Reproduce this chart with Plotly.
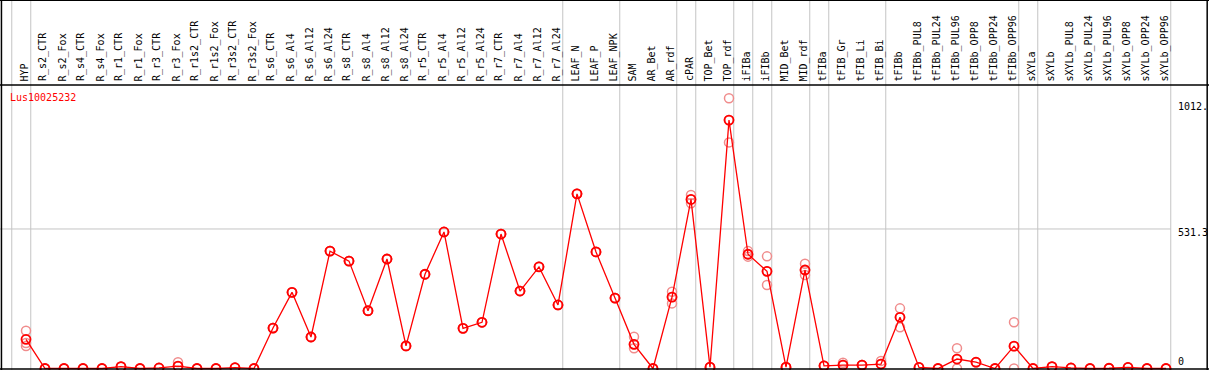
import plotly.graph_objects as go

categories = ["HYP", "R_s2_CTR", "R_s2_Fox", "R_s4_CTR", "R_s4_Fox", "R_r1_CTR", "R_r1_Fox",
              "R_r3_CTR", "R_r3_Fox", "R_r1s2_CTR", "R_r1s2_Fox", "R_r3s2_CTR", "R_r3s2_Fox",
              "R_s6_CTR", "R_s6_Al4", "R_s6_Al12", "R_s6_Al24", "R_s8_CTR", "R_s8_Al4",
              "R_s8_Al12", "R_s8_Al24", "R_r5_CTR", "R_r5_Al4", "R_r5_Al12", "R_r5_Al24",
              "R_r7_CTR", "R_r7_Al4", "R_r7_Al12", "R_r7_Al24", "LEAF_N", "LEAF_P", "LEAF_NPK",
              "SAM", "AR_Bet", "AR_rdf", "cPAR", "TOP_Bet", "TOP_rdf", "iFIBa", "iFIBb",
              "MID_Bet", "MID_rdf", "tFIBa", "tFIB_Gr", "tFIB_Li", "tFIB_Bi", "tFIBb",
              "tFIBb_PUL8", "tFIBb_PUL24", "tFIBb_PUL96", "tFIBb_OPP8", "tFIBb_OPP24",
              "tFIBb_OPP96", "sXYLa", "sXYLb", "sXYLb_PUL8", "sXYLb_PUL24", "sXYLb_PUL96",
              "sXYLb_OPP8", "sXYLb_OPP24", "sXYLb_OPP96"]

mean_values = [111, 0, 0, 0, 0, 7, 0, 2, 9, 0, 0, 3, 0,
               154, 290, 120, 447, 409, 220, 417, 86, 359, 520, 153, 176,
               512, 295, 387, 242, 665, 444, 268,
               92, 0, 272, 644, 5, 946, 435, 370, 5, 375,
               10, 13, 13, 17, 195, 4, 0, 36, 24, 0, 85,
               0, 7, 2, 0, 1, 4, 0, 0]

rep_a = [144, 0, 0, 0, 0, 7, 0, 2, 24, 0, 0, 3, 0,
         154, 290, 120, 447, 409, 220, 417, 86, 359, 520, 153, 176,
         512, 295, 387, 242, 665, 444, 268,
         121, 0, 292, 661, 5, 1029, 447, 427, 5, 399,
         10, 22, 13, 29, 229, 4, 0, 77, 24, 0, 176,
         0, 7, 2, 0, 1, 4, 0, 0]

rep_b = [86, 0, 0, 0, 0, 7, 0, 2, 9, 0, 0, 3, 0,
         154, 290, 120, 447, 409, 220, 417, 86, 359, 520, 153, 176,
         512, 295, 387, 242, 665, 444, 268,
         77, 0, 248, 629, 5, 861, 426, 318, 5, 356,
         10, 13, 13, 17, 157, 4, 0, 0, 24, 0, 0,
         0, 7, 2, 0, 1, 4, 0, 0]

rep_c = [97, 0, 0, 0, 0, 7, 0, 2, 9, 0, 0, 3, 0,
         154, 290, 120, 447, 409, 220, 417, 86, 359, 520, 153, 176,
         512, 295, 387, 242, 665, 444, 268,
         92, 0, 272, 644, 5, 946, 435, 370, 5, 375,
         10, 13, 13, 17, 195, 4, 0, 36, 24, 0, 85,
         0, 7, 2, 0, 1, 4, 0, 0]

separator_after = ["HYP", "R_r7_Al24", "LEAF_NPK", "AR_rdf", "cPAR", "TOP_rdf", "iFIBa",
                   "iFIBb", "MID_rdf", "tFIBa", "tFIB_Bi", "tFIBb_OPP96", "sXYLa", "sXYLb_OPP96"]

gene_id = "Lus10025232"
y_tick_values = [1012, 531.3, 0]
y_tick_labels = ["1012.", "531.3", "0"]
grid_value = 531.3

W, H = 1209, 370
X0_PX, DX_PX = 26, 19          # pixel of first category, pixel step
Y0_PX, SY = 368.5, 0.2626      # pixel of zero, pixels per unit

x_range = [(0 - X0_PX) / DX_PX, (W - X0_PX) / DX_PX]
y_range = [(Y0_PX - H) / SY, Y0_PX / SY]

xs = list(range(len(categories)))
fig = go.Figure()

for reps in (rep_a, rep_b, rep_c):
    fig.add_trace(go.Scatter(
        x=xs, y=reps, mode="markers",
        marker=dict(symbol="circle-open", size=9, color="#F08C8C", line=dict(width=1.5)),
        hoverinfo="skip", showlegend=False))

fig.add_trace(go.Scatter(
    x=xs, y=mean_values, mode="lines+markers",
    line=dict(color="#FF0000", width=1.3),
    marker=dict(symbol="circle-open", size=9, color="#FF0000", line=dict(width=1.8)),
    showlegend=False))

shapes = []
# group separators
sep_idx = [-1] + [categories.index(c) for c in separator_after]
for i in sep_idx:
    shapes.append(dict(type="line", xref="x", yref="paper", x0=i + 0.25, x1=i + 0.25,
                       y0=0, y1=1, line=dict(color="#C4C4C4", width=1), layer="below"))
# horizontal grid line
last_sep = categories.index(separator_after[-1]) + 0.25
shapes.append(dict(type="line", xref="paper", yref="y", x0=0,
                   x1=(last_sep - x_range[0]) / (x_range[1] - x_range[0]),
                   y0=grid_value, y1=grid_value, line=dict(color="#C4C4C4", width=1), layer="below"))
# black frame and header line
header_y = 1 - 85 / H
for (x0, y0, x1, y1) in [(0, 0.999, 1, 0.999), (0, 0.003, 1, 0.003), (0.0012, 0, 0.0012, 1),
                         (0.9985, 0, 0.9985, 1), (0, header_y, 1, header_y)]:
    shapes.append(dict(type="line", xref="paper", yref="paper", x0=x0, y0=y0, x1=x1, y1=y1,
                       line=dict(color="black", width=1.5), layer="above"))

annotations = []
label_bottom = 1 - 83.5 / H
for i, c in enumerate(categories):
    annotations.append(dict(x=i, y=label_bottom, xref="x", yref="paper", text=c, textangle=-90,
                            showarrow=False, xanchor="center", yanchor="bottom", xshift=-2,
                            font=dict(family="DejaVu Sans Mono", size=10, color="black")))
annotations.append(dict(x=8 / W, y=1 - 97 / H, xref="paper", yref="paper", text=gene_id,
                        showarrow=False, xanchor="left", yanchor="middle",
                        font=dict(family="DejaVu Sans Mono", size=10, color="#FF0000")))
for v, t in zip(y_tick_values, y_tick_labels):
    ypx = Y0_PX - v * SY + 3.5
    ypx = min(ypx, 361.5)
    annotations.append(dict(x=1176 / W, y=1 - ypx / H, xref="paper", yref="paper", text=t,
                            showarrow=False, xanchor="left", yanchor="middle",
                            font=dict(family="DejaVu Sans Mono", size=10, color="black")))

fig.update_layout(
    width=W, height=H, margin=dict(l=0, r=0, t=0, b=0),
    paper_bgcolor="white", plot_bgcolor="white",
    xaxis=dict(range=x_range, visible=False, fixedrange=True),
    yaxis=dict(range=y_range, visible=False, fixedrange=True),
    shapes=shapes, annotations=annotations, showlegend=False)

fig.write_html("out.html", config={"displayModeBar": False},
               post_script="document.body.style.margin='0';document.body.style.overflow='hidden';")
